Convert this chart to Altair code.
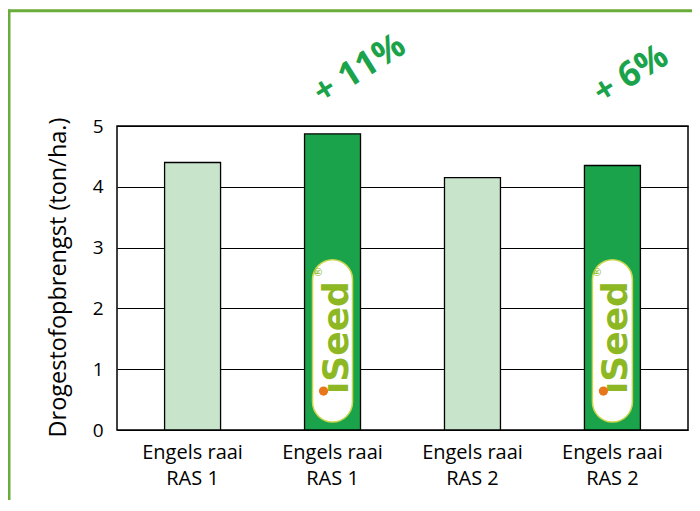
import math
import altair as alt
import pandas as pd

# ---- data ----
keys = ["a", "b", "c", "d"]
labels = ["Engels raai|RAS 1", "Engels raai|RAS 1", "Engels raai|RAS 2", "Engels raai|RAS 2"]
values = [4.40, 4.87, 4.15, 4.35]
kinds = ["standaard", "iSeed", "standaard", "iSeed"]
annot_keys = ["b", "d"]
annot_text = ["+ 11%", "+ 6%"]

df = pd.DataFrame({"key": keys, "value": values, "kind": kinds})
df_logo = df[df["kind"] == "iSeed"].reset_index(drop=True)
df_ann = pd.DataFrame({"key": annot_keys, "text": annot_text})
df_one = pd.DataFrame({"a": [0]})

DARK = "#1aa34a"
LIGHT = "#c8e5cc"
OLIVE = "#8db824"
FRAME = "#6aac3a"
FONT = "Open Sans"


def rot_offset(sx, sy, angle_deg):
    """convert a screen offset into the rotated text frame used by dx/dy"""
    a = math.radians(-angle_deg)
    return (sx * math.cos(a) - sy * math.sin(a), sx * math.sin(a) + sy * math.cos(a))


lab_js = "[" + ",".join("'" + l + "'" for l in labels) + "]"
key_js = "[" + ",".join("'" + k + "'" for k in keys) + "]"

x_axis = alt.Axis(
    title=None, labelAngle=0, ticks=False, domain=False, grid=False,
    labelExpr="split(" + lab_js + "[indexof(" + key_js + ", datum.value)], '|')",
    labelFont=FONT, labelFontSize=20, labelColor="black", labelLineHeight=26,
    labelPadding=12, labelBaseline="top",
)
y_axis = alt.Axis(
    title="Drogestofopbrengst (ton/ha.)", values=[0, 1, 2, 3, 4, 5], ticks=False,
    domain=False, grid=True, gridColor="black", gridWidth=1.2, gridOpacity=1,
    labelFont=FONT, labelFontSize=19, labelColor="black", labelPadding=14,
    titleFont=FONT, titleFontSize=23.5, titleFontWeight="normal", titleColor="black",
    titleX=-59, titleY=151, titleAngle=270, titleAlign="center", titleBaseline="middle",
)

x = alt.X("key:N", sort=keys,
          scale=alt.Scale(domain=keys, paddingInner=0.6, paddingOuter=0.34),
          axis=x_axis)
yscale = alt.Scale(domain=[0, 5], nice=False, zero=True)

bars = alt.Chart(df).mark_bar(stroke="black", strokeWidth=1.3).encode(
    x=x,
    y=alt.Y("value:Q", scale=yscale, axis=y_axis),
    color=alt.Color("kind:N", scale=alt.Scale(domain=["standaard", "iSeed"], range=[LIGHT, DARK]), legend=None),
)

pill = alt.Chart(df_logo).mark_bar(
    width=40, cornerRadius=20, fill="white", stroke="#c9d64a", strokeWidth=1.5
).encode(x=x, y=alt.YDatum(0.13, scale=yscale, axis=y_axis), y2=alt.datum(2.8))

tdx, tdy = rot_offset(15, 0, 270)
logo_text = alt.Chart(df_logo).mark_text(
    text="ıSeed", angle=270, font="DejaVu Sans", fontWeight="bold", fontSize=36,
    color=OLIVE, align="center", baseline="alphabetic", dx=tdx, dy=tdy,
).encode(x=x, y=alt.YDatum(1.52, scale=yscale, axis=y_axis))

logo_dot = alt.Chart(df_logo).mark_circle(
    size=85, color="#e8761a", opacity=1, xOffset=-9
).encode(x=x, y=alt.YDatum(0.64, scale=yscale, axis=y_axis))

rdx, rdy = rot_offset(-14, 0, 270)
logo_reg = alt.Chart(df_logo).mark_text(
    text="®", angle=270, fontSize=11, color=OLIVE, dx=rdx, dy=rdy, font="DejaVu Sans",
).encode(x=x, y=alt.YDatum(2.6, scale=yscale, axis=y_axis))

adx, ady = rot_offset(-10, -21, 328)
ann = alt.Chart(df_ann).mark_text(
    angle=328, align="left", baseline="alphabetic", fontSize=35, fontWeight="bold",
    font=FONT, color=DARK, dx=adx, dy=ady,
).encode(x=x, y=alt.YDatum(5, scale=yscale, axis=y_axis), text="text:N")

frame_left = alt.Chart(df_one).mark_rule(color=FRAME, strokeWidth=3).encode(
    x=alt.value(-108), y=alt.value(-116.5), y2=alt.value(400)
)
frame_top = alt.Chart(df_one).mark_rule(color=FRAME, strokeWidth=3).encode(
    x=alt.value(-109.5), x2=alt.value(580), y=alt.value(-115.3)
)

chart = alt.layer(
    bars, pill, logo_text, logo_dot, logo_reg, ann, frame_left, frame_top
).properties(
    width=571, height=304,
    autosize=alt.AutoSizeParams(type="none"),
    padding={"left": 109, "top": 118, "right": 4, "bottom": 70},
).configure_view(stroke="black", strokeWidth=1.5)

chart.save("out.html", embed_options={"renderer": "svg", "actions": False})
